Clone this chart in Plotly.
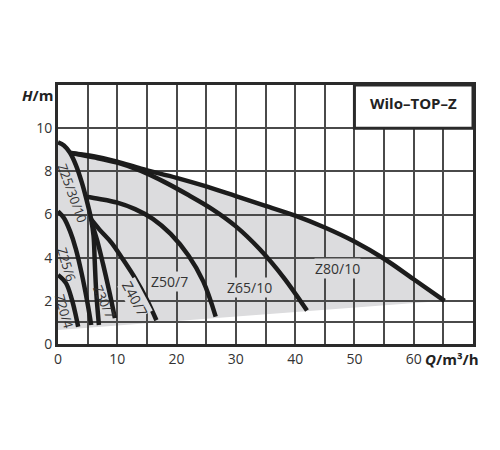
import plotly.graph_objects as go

# ---------------- data ----------------
z20_4_q = [0, 1.35, 2.35, 2.92, 3.4]
z20_4_h = [3.2, 2.82, 2.05, 1.43, 0.8]

z25_6_q = [0, 1.0, 2.0, 3.0, 4.0, 5.0, 5.6]
z25_6_h = [6.15, 5.84, 5.25, 4.41, 3.26, 1.86, 0.88]

z25_10_q = [0, 1.0, 2.0, 3.0, 4.0, 4.8, 5.6, 6.0, 6.2, 6.45, 6.9]
z25_10_h = [9.35, 9.2, 8.87, 8.3, 7.5, 6.7, 5.77, 5.0, 3.8, 2.4, 0.88]

z30_7_q = [5.7, 6.6, 7.6, 8.6, 9.6]
z30_7_h = [5.6, 4.8, 3.7, 2.5, 1.2]

z40_7_q = [5.6, 7.0, 9.0, 11.0, 13.0, 15.0, 16.6]
z40_7_h = [5.77, 5.3, 4.7, 3.9, 3.05, 2.05, 1.1]

z50_7_q = [4.7, 7.0, 10.0, 13.0, 16.0, 19.0, 22.0, 24.5, 26.6]
z50_7_h = [6.82, 6.72, 6.55, 6.25, 5.8, 5.1, 4.1, 2.9, 1.27]

z65_10_q = [2.2, 6.0, 10.0, 14.0, 18.0, 22.0, 26.0, 30.0, 34.0, 38.0, 42.0]
z65_10_h = [8.85, 8.65, 8.4, 8.02, 7.5, 6.9, 6.25, 5.45, 4.4, 3.1, 1.55]

z80_10_q = [2.2, 6.0, 10.0, 14.0, 20.0, 25.0, 30.0, 35.0, 40.0, 45.0, 50.0, 55.0, 60.0, 65.2]
z80_10_h = [8.85, 8.7, 8.45, 8.12, 7.7, 7.3, 6.85, 6.4, 5.95, 5.4, 4.75, 3.95, 3.0, 2.0]

# lower edge of the grey operating field
low_q = [65.2, 0]
low_h = [2.0, 0.65]

x_ticks = [0, 10, 20, 30, 40, 50, 60]
y_ticks = [0, 2, 4, 6, 8, 10]

curve_names = ["Z20/4", "Z25/6", "Z25/30/10", "Z30/7", "Z40/7", "Z50/7", "Z65/10", "Z80/10"]
label_q = [1.15, 1.5, 2.45, 7.85, 12.95, 18.85, 32.3, 47.2]
label_h = [1.5, 3.66, 7.0, 1.95, 2.09, 2.88, 2.63, 3.5]
label_angle = [74, 73, 70, 66, 62, 0, 0, 0]
label_size = [13, 13, 13, 13, 14, 14, 14, 14]
label_masks_grid = [False, False, False, False, True, True, True, True]

curves = [(z20_4_q, z20_4_h), (z25_6_q, z25_6_h), (z25_10_q, z25_10_h),
          (z30_7_q, z30_7_h), (z40_7_q, z40_7_h), (z50_7_q, z50_7_h),
          (z65_10_q, z65_10_h), (z80_10_q, z80_10_h)]

FILL = "#dcdcde"
INK = "#1c1c1c"
GRID = "#4a4a4a"
FONT = "Open Sans"

fig = go.Figure()

# grey field: upper edge = Z25/30/10 up to the start of Z80/10, then Z80/10, then lower edge
env_q = [q for q in z25_10_q if q < z80_10_q[0]] + z80_10_q + low_q
env_h = [h for q, h in zip(z25_10_q, z25_10_h) if q < z80_10_q[0]] + z80_10_h + low_h
path = "M " + " L ".join(f"{q},{h}" for q, h in zip(env_q, env_h)) + " Z"

for (q, h), name in zip(curves, curve_names):
    fig.add_trace(go.Scatter(x=q, y=h, mode="lines", name=name,
                             line=dict(color=INK, width=4.5, shape="spline", smoothing=1.0),
                             showlegend=False, hoverinfo="skip"))

shapes = [
    dict(type="path", path=path, xref="x", yref="y", fillcolor=FILL,
         line=dict(width=0), layer="below"),
    dict(type="rect", xref="x", yref="y", x0=50, x1=70, y0=10, y1=12,
         fillcolor="white", line=dict(color="#2a2a2a", width=3), layer="above"),
]

annotations = []
for name, q, h, a, s, m in zip(curve_names, label_q, label_h, label_angle, label_size,
                               label_masks_grid):
    annotations.append(dict(x=q, y=h, xref="x", yref="y", text=name, showarrow=False,
                            textangle=a, font=dict(family=FONT, size=s, color="#333"),
                            bgcolor=FILL if m else "rgba(0,0,0,0)", borderpad=0))

annotations += [
    dict(x=60, y=11, xref="x", yref="y", text="<b>Wilo–TOP–Z</b>", showarrow=False,
         font=dict(family=FONT, size=15, color="#222"), yshift=4),
    dict(x=0, y=12, xref="paper", yref="y", text="<b><i>H</i>/m</b>", showarrow=False,
         xanchor="right", yanchor="middle", xshift=-3, yshift=-10,
         font=dict(family=FONT, size=15, color="#222")),
    dict(x=61.6, y=0, xref="x", yref="y", text="<b><i>Q</i>/m³/h</b>", showarrow=False,
         xanchor="left", yanchor="top", yshift=-3,
         font=dict(family=FONT, size=15, color="#222")),
]

fig.update_layout(
    width=500, height=450,
    margin=dict(l=50, r=35, t=77, b=114),
    paper_bgcolor="white", plot_bgcolor="white",
    shapes=shapes, annotations=annotations,
    font=dict(family=FONT, size=14, color="#333"),
)
fig.update_xaxes(range=[0, 70], tickvals=x_ticks, ticktext=[str(v) for v in x_ticks],
                 showgrid=True, gridcolor=GRID, gridwidth=1.5,
                 minor=dict(dtick=5, tick0=0, showgrid=True, gridcolor=GRID, gridwidth=1.5),
                 showline=True, linecolor="#2a2a2a", linewidth=3, mirror=True,
                 zeroline=False, ticks="", tickfont=dict(size=14, color="#333"))
fig.update_yaxes(range=[0, 12], tickvals=y_ticks, ticktext=[str(v) for v in y_ticks],
                 showgrid=True, gridcolor=GRID, gridwidth=1.5,
                 minor=dict(tickvals=[1], showgrid=True, gridcolor=GRID, gridwidth=1.5),
                 showline=True, linecolor="#2a2a2a", linewidth=3, mirror=True,
                 zeroline=False, ticks="", tickfont=dict(size=14, color="#333"))

fig.write_html("out.html")
